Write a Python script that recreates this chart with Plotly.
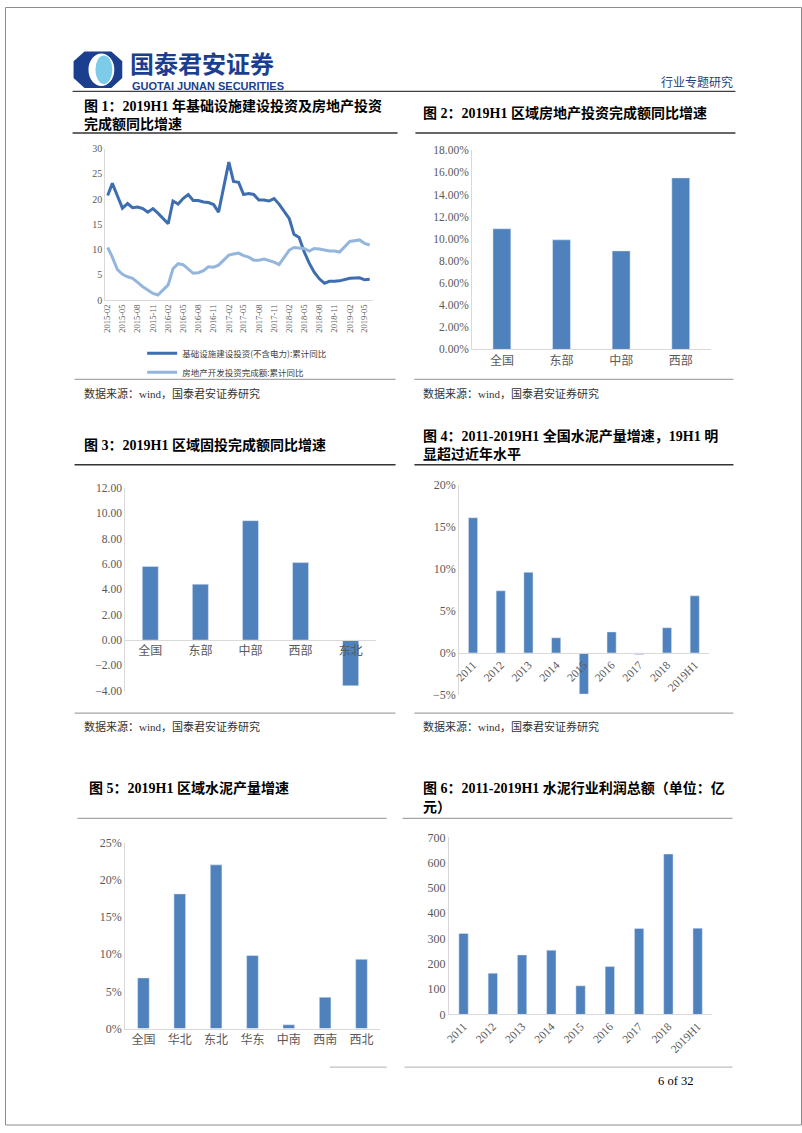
import plotly.graph_objects as go

W, H = 802, 1133
def fx(x): return x / W
def fy(y): return 1 - y / H

# ---------------- data ----------------
# Chart 1: monthly cumulative YoY (January merged into Feb)
months = []
for yr in [2015, 2016, 2017, 2018]:
    months += [f"{yr}-{m:02d}-01" for m in range(2, 13)]
months += [f"2019-{m:02d}-01" for m in range(2, 7)]

infra = [20.7, 23.1, 20.6, 18.2, 19.1, 18.3, 18.4, 18.1, 17.4, 18.1, 17.2,
         15.1, 19.6, 19.0, 20.1, 20.9, 19.7, 19.7, 19.4, 19.3, 18.9, 17.4,
         27.3, 23.5, 23.3, 20.9, 21.1, 20.9, 19.8, 19.8, 19.6, 20.1, 19.0,
         16.1, 13.0, 12.4, 9.6, 7.3, 5.5, 4.2, 3.3, 3.7, 3.7, 3.8,
         4.3, 4.4, 4.4, 4.0, 4.1]
realestate = [10.4, 8.5, 6.0, 5.1, 4.6, 4.3, 3.5, 2.6, 2.0, 1.3, 1.0,
              3.0, 6.2, 7.2, 7.0, 6.1, 5.3, 5.4, 5.8, 6.6, 6.5, 6.9,
              8.9, 9.1, 9.3, 8.8, 8.5, 7.9, 7.9, 8.1, 7.8, 7.5, 7.0,
              9.9, 10.4, 10.3, 10.2, 9.7, 10.2, 10.1, 9.9, 9.7, 9.7, 9.5,
              11.6, 11.8, 11.9, 11.2, 10.9]
c1_tickvals = [f"{y}-{m:02d}-01" for y in [2015, 2016, 2017, 2018, 2019] for m in (2, 5, 8, 11)][:18]
c1_ticktext = [v[:7] for v in c1_tickvals]
c1_names = ["基础设施建设投资(不含电力):累计同比", "房地产开发投资完成额:累计同比"]

# Chart 2
c2_cats = ["全国", "东部", "中部", "西部"]
c2_vals = [10.9, 9.9, 8.9, 15.5]

# Chart 3
c3_cats = ["全国", "东部", "中部", "西部", "东北"]
c3_vals = [5.8, 4.4, 9.4, 6.1, -3.6]

# Chart 4
c4_cats = ["2011", "2012", "2013", "2014", "2015", "2016", "2017", "2018", "2019H1"]
c4_vals = [16.1, 7.4, 9.6, 1.8, -4.9, 2.5, -0.2, 3.0, 6.8]

# Chart 5
c5_cats = ["全国", "华北", "东北", "华东", "中南", "西南", "西北"]
c5_vals = [6.8, 18.1, 22.0, 9.8, 0.5, 4.2, 9.3]

# Chart 6
c6_cats = ["2011", "2012", "2013", "2014", "2015", "2016", "2017", "2018", "2019H1"]
c6_vals = [320, 163, 235, 254, 113, 189, 340, 634, 341]

BAR = "#4F81BD"
DARK = "#3E6EAF"
LIGHT = "#94B6DD"
GRAY_TXT = "#595959"
AXLINE = "#D9D9D9"
SERIF = "Liberation Serif, Noto Sans CJK SC"
CJK = "Noto Sans CJK SC"

fig = go.Figure()

# chart 1 lines
fig.add_trace(go.Scatter(x=months, y=infra, mode="lines", name=c1_names[0],
                         line=dict(color=DARK, width=3), xaxis="x", yaxis="y"))
fig.add_trace(go.Scatter(x=months, y=realestate, mode="lines", name=c1_names[1],
                         line=dict(color=LIGHT, width=3), xaxis="x", yaxis="y"))
# bars
fig.add_trace(go.Bar(x=c2_cats, y=c2_vals, marker_color=BAR, width=0.3, showlegend=False, xaxis="x2", yaxis="y2"))
fig.add_trace(go.Bar(x=c3_cats, y=c3_vals, marker_color=BAR, width=0.32, showlegend=False, xaxis="x3", yaxis="y3"))
fig.add_trace(go.Bar(x=c4_cats, y=c4_vals, marker_color=BAR, width=0.33, showlegend=False, xaxis="x4", yaxis="y4"))
fig.add_trace(go.Bar(x=c5_cats, y=c5_vals, marker_color=BAR, width=0.32, showlegend=False, xaxis="x5", yaxis="y5"))
fig.add_trace(go.Bar(x=c6_cats, y=c6_vals, marker_color=BAR, width=0.32, showlegend=False, xaxis="x6", yaxis="y6"))

def ydom(top, bot):
    return [fy(bot), fy(top)]

def zero_pos(dom, rng):
    return dom[0] + (0 - rng[0]) / (rng[1] - rng[0]) * (dom[1] - dom[0])

tick_common = dict(showgrid=False, zeroline=False, ticks="", fixedrange=True)

# chart 1 axes
d1y = ydom(143.3, 296.7)
fig.update_layout(
    xaxis=dict(domain=[fx(101), fx(370)], anchor="y", type="date",
               range=["2015-01-18", "2019-06-19"], tickvals=c1_tickvals, ticktext=c1_ticktext,
               tickangle=-90, tickfont=dict(family=SERIF, size=8.5, color=GRAY_TXT),
               showline=True, linecolor=AXLINE, linewidth=1, **tick_common),
    yaxis=dict(domain=d1y, anchor="x", range=[0, 30], dtick=5,
               tickfont=dict(family=SERIF, size=10, color=GRAY_TXT),
               showline=True, linecolor=AXLINE, linewidth=1, **tick_common),
)
# chart 2
d2y = ydom(145, 346.7)
fig.update_layout(
    xaxis2=dict(domain=[fx(470), fx(710)], anchor="y2", range=[-0.5, 3.5],
                tickfont=dict(family=SERIF, size=12, color=GRAY_TXT),
                showline=True, linecolor=AXLINE, linewidth=1, **tick_common),
    yaxis2=dict(domain=d2y, anchor="x2", range=[0, 18], dtick=2, tickformat=".2f", ticksuffix="%",
                tickfont=dict(family=SERIF, size=11.5, color=GRAY_TXT),
                showline=True, linecolor=AXLINE, linewidth=1, **tick_common),
)
# chart 3
d3y = ydom(486.7, 692.4)
r3 = [-4, 12]
fig.update_layout(
    xaxis3=dict(domain=[fx(121), fx(373)], anchor="free", position=zero_pos(d3y, r3),
                range=[-0.5, 4.5], tickfont=dict(family=SERIF, size=12, color=GRAY_TXT),
                showline=True, linecolor=AXLINE, linewidth=1, **tick_common),
    yaxis3=dict(domain=d3y, anchor="x3", range=r3, dtick=2, tickformat=".2f",
                tickfont=dict(family=SERIF, size=11.5, color=GRAY_TXT),
                showline=True, linecolor=AXLINE, linewidth=1, **tick_common),
)
# chart 4
d4y = ydom(484, 696.5)
r4 = [-5, 20]
fig.update_layout(
    xaxis4=dict(domain=[fx(457), fx(708)], anchor="free", position=zero_pos(d4y, r4),
                range=[-0.5, 8.5], tickangle=-45,
                tickfont=dict(family=SERIF, size=11.5, color=GRAY_TXT),
                showline=True, linecolor=AXLINE, linewidth=1, **tick_common),
    yaxis4=dict(domain=d4y, anchor="x4", range=r4, dtick=5, ticksuffix="%",
                tickfont=dict(family=SERIF, size=12, color=GRAY_TXT),
                showline=True, linecolor=AXLINE, linewidth=1, **tick_common),
)
# chart 5
d5y = ydom(846, 1034.3)
fig.update_layout(
    xaxis5=dict(domain=[fx(121), fx(377)], anchor="y5", range=[-0.5, 6.5],
                tickfont=dict(family=SERIF, size=12, color=GRAY_TXT),
                showline=True, linecolor=AXLINE, linewidth=1, **tick_common),
    yaxis5=dict(domain=d5y, anchor="x5", range=[0, 25], dtick=5, ticksuffix="%",
                tickfont=dict(family=SERIF, size=12, color=GRAY_TXT),
                showline=True, linecolor=AXLINE, linewidth=1, **tick_common),
)
# chart 6
d6y = ydom(840.7, 1020)
fig.update_layout(
    xaxis6=dict(domain=[fx(446.7), fx(711.7)], anchor="y6", range=[-0.5, 8.5], tickangle=-45,
                tickfont=dict(family=SERIF, size=11.5, color=GRAY_TXT),
                showline=True, linecolor=AXLINE, linewidth=1, **tick_common),
    yaxis6=dict(domain=d6y, anchor="x6", range=[0, 700], dtick=100,
                tickfont=dict(family=SERIF, size=12, color=GRAY_TXT),
                showline=True, linecolor=AXLINE, linewidth=1, **tick_common),
)

# ---------------- page decorations ----------------
shapes = []
def hline(x0, x1, y, color, width):
    shapes.append(dict(type="line", xref="paper", yref="paper", x0=fx(x0), x1=fx(x1),
                       y0=fy(y), y1=fy(y), line=dict(color=color, width=width)))

def path(points):
    return "M " + " L ".join(f"{fx(x):.5f},{fy(y):.5f}" for x, y in points) + " Z"

# page border
shapes.append(dict(type="rect", xref="paper", yref="paper", x0=fx(0.5), x1=fx(801.5),
                   y0=fy(1132), y1=fy(0.5), line=dict(color="#8C8C8C", width=1)))
# logo icon
NAVY = "#1B3E8F"
shapes.append(dict(type="path", xref="paper", yref="paper",
                   path=path([(80, 45), (107, 45), (118, 55), (118, 72), (107, 82), (80, 82), (69, 72), (69, 55)]),
                   fillcolor=NAVY, line=dict(width=0)))
shapes.append(dict(type="circle", xref="paper", yref="paper", x0=fx(84), x1=fx(110), y0=fy(80), y1=fy(47),
                   fillcolor="white", line=dict(width=0)))
shapes.append(dict(type="circle", xref="paper", yref="paper", x0=fx(91), x1=fx(108), y0=fy(78), y1=fy(49),
                   fillcolor="#7CCBE8", line=dict(width=0)))

# header line
hline(68, 735, 85.5, "#404040", 1.3)
# section 1
hline(68, 395, 127.5, "#333333", 1.5)
hline(413, 735, 127.5, "#333333", 1.5)
hline(70, 393, 377, "#A6A6A6", 1.3)
hline(412, 733, 377, "#A6A6A6", 1.3)
# section 2
hline(70, 393, 463.5, "#333333", 1.5)
hline(412, 733, 463.5, "#333333", 1.5)
hline(70, 393, 715, "#A6A6A6", 1.3)
hline(412, 733, 715, "#A6A6A6", 1.3)
# section 3
hline(73, 384, 821.5, "#A6A6A6", 1.3)
hline(400, 732, 821.5, "#A6A6A6", 1.3)
# footer lines
hline(327, 384, 1073.3, "#BFBFBF", 1.3)
hline(402, 732, 1073.3, "#BFBFBF", 1.3)

ann = []
def text(x, y, s, size, family=CJK, color="#000000", xanchor="left", bold=False, yanchor="middle"):
    ann.append(dict(xref="paper", yref="paper", x=fx(x), y=fy(y), text=(f"<b>{s}</b>" if bold else s),
                    showarrow=False, xanchor=xanchor, yanchor=yanchor, borderpad=0,
                    font=dict(size=size, family=family, color=color)))

TITLE_FONT = "Liberation Serif, Noto Sans CJK SC"
text(125, 75, "国泰君安证券", 24, CJK, NAVY, bold=True, yanchor="bottom")
text(127, 73, "GUOTAI JUNAN SECURITIES", 11, "Liberation Sans", NAVY, bold=True, yanchor="top")
text(734, 75, "行业专题研究", 12, CJK, "#1F3F7A", xanchor="right")

text(78, 100, "图 1：2019H1 年基础设施建设投资及房地产投资", 14, TITLE_FONT, bold=True)
text(78, 118, "完成额同比增速", 14, TITLE_FONT, bold=True)
text(420, 107, "图 2：2019H1 区域房地产投资完成额同比增速", 14, TITLE_FONT, bold=True)
src = "数据来源：wind，国泰君安证券研究"
text(78, 391, src, 11, TITLE_FONT, "#333333")
text(420, 391, src, 11, TITLE_FONT, "#333333")

text(78, 443, "图 3：2019H1 区域固投完成额同比增速", 14, TITLE_FONT, bold=True)
text(420, 434, "图 4：2011-2019H1 全国水泥产量增速，19H1 明", 14, TITLE_FONT, bold=True)
text(420, 453, "显超过近年水平", 14, TITLE_FONT, bold=True)
text(78, 728, src, 11, TITLE_FONT, "#333333")
text(420, 728, src, 11, TITLE_FONT, "#333333")

text(84, 791, "图 5：2019H1 区域水泥产量增速", 14, TITLE_FONT, bold=True)
text(420, 791, "图 6：2011-2019H1 水泥行业利润总额（单位：亿", 14, TITLE_FONT, bold=True)
text(420, 811, "元）", 14, TITLE_FONT, bold=True)

text(693, 1087, "6 of 32", 12.5, "Liberation Serif", "#000000", xanchor="right")

fig.update_layout(
    width=W, height=H, margin=dict(l=0, r=0, t=0, b=0),
    paper_bgcolor="white", plot_bgcolor="white",
    shapes=shapes, annotations=ann,
    showlegend=True,
    legend=dict(x=fx(138), y=fy(336), xanchor="left", yanchor="top",
                font=dict(family=CJK, size=8.5, color="#404040"),
                bgcolor="rgba(0,0,0,0)", itemwidth=30, tracegroupgap=0),
)

fig.write_html("out.html", config={"displayModeBar": False},
               post_script="document.body.style.margin='0';document.body.style.padding='0';document.body.style.overflow='hidden';")
